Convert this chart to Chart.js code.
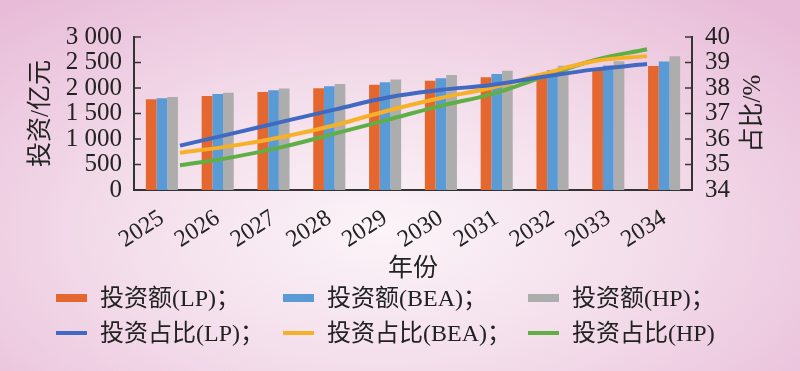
<!DOCTYPE html>
<html lang="zh">
<head>
<meta charset="utf-8">
<title>投资额与投资占比</title>
<script src="https://cdn.jsdelivr.net/npm/chart.js@4.4.1/dist/chart.umd.min.js"></script>
<style>
    html, body { margin: 0; padding: 0; }
    body {
        width: 800px; height: 371px; overflow: hidden;
        background: radial-gradient(ellipse 70% 80% at 48% 62%, #fbf4f8 0%, #f3dcea 50%, #e8bcd8 100%);
    }
    #wrap { position: relative; width: 800px; height: 371px; }
    #wrap canvas { position: absolute; left: 0; top: 0; }
    #legend {
        position: absolute; left: 0; top: 0; width: 800px; height: 371px; pointer-events: none;
        font-family: "Liberation Serif", "Noto Sans CJK SC", serif; font-size: 24px; color: #222;
    }
    .item { position: absolute; display: flex; align-items: center; white-space: nowrap; height: 30px; line-height: 30px; }
    .swatch { width: 31px; margin-right: 13px; }
</style>
</head>
<body>
<div id="wrap">
    <canvas id="barras" width="800" height="371"></canvas>
    <canvas id="lineas" width="800" height="371"></canvas>
    <div id="legend"></div>
</div>
<script>
const years = ['2025', '2026', '2027', '2028', '2029', '2030', '2031', '2032', '2033', '2034'];
const yearNums = [2025, 2026, 2027, 2028, 2029, 2030, 2031, 2032, 2033, 2034];

// 投资额 / 亿元
const investLP = [1780, 1845, 1920, 1995, 2065, 2140, 2210, 2285, 2360, 2430];
const investBEA = [1800, 1880, 1955, 2035, 2115, 2190, 2275, 2355, 2440, 2520];
const investHP = [1825, 1905, 1990, 2080, 2165, 2255, 2340, 2435, 2525, 2625];

// 投资占比 / %
const shareLP = [35.74, 36.21, 36.69, 37.16, 37.63, 37.92, 38.12, 38.44, 38.73, 38.94];
const shareBEA = [35.46, 35.73, 36.09, 36.55, 37.11, 37.60, 38.01, 38.55, 39.06, 39.25];
const shareHP = [34.97, 35.28, 35.70, 36.22, 36.75, 37.29, 37.76, 38.44, 39.10, 39.52];

const leftTickLabels = ['0', '500', '1 000', '1 500', '2 000', '2 500', '3 000'];
const rightTickLabels = ['34', '35', '36', '37', '38', '39', '40'];
const seriesNames = ['投资额(LP)；', '投资额(BEA)；', '投资额(HP)；', '投资占比(LP)；', '投资占比(BEA)；', '投资占比(HP)'];
const leftAxisTitle = '投资/亿元';
const rightAxisTitle = '占比/%';
const xAxisTitle = '年份';

const FUENTE = '"Liberation Serif", "Noto Sans CJK SC", serif';
const colores = ['#e3672f', '#5b9bd5', '#adadad', '#4169c1', '#f6b128', '#5faf45'];

// area del grafico compartida por los dos lienzos
const AREA = { left: 134, top: 37, right: 108, bottom: 181 };

function puntos(valores) {
    return valores.map((v, i) => ({ x: yearNums[i], y: v }));
}

const ejesPlugin = {
    id: 'ejes',
    afterDraw(chart) {
        const ctx = chart.ctx;
        const a = chart.chartArea;
        const sy = chart.scales.y;
        const sy1 = chart.scales.y1;
        ctx.save();
        ctx.strokeStyle = '#333';
        ctx.lineWidth = 1.5;
        sy.ticks.forEach((t, i) => {
            const py = sy.getPixelForTick(i);
            ctx.beginPath(); ctx.moveTo(a.left, py); ctx.lineTo(a.left + 7, py); ctx.stroke();
        });
        sy1.ticks.forEach((t, i) => {
            const py = sy1.getPixelForTick(i);
            ctx.beginPath(); ctx.moveTo(a.right - 7, py); ctx.lineTo(a.right, py); ctx.stroke();
        });
        // titulo del eje derecho, girado como el izquierdo
        ctx.font = '25px ' + FUENTE;
        ctx.fillStyle = '#222';
        ctx.textAlign = 'center';
        ctx.textBaseline = 'middle';
        ctx.translate(sy1.right - 47, (a.top + a.bottom) / 2);
        ctx.rotate(-Math.PI / 2);
        ctx.fillText(rightAxisTitle, 0, 0);
        ctx.restore();
    }
};

function renderizarBarras() {
    const ctx = document.getElementById('barras').getContext('2d');
    return new Chart(ctx, {
        type: 'bar',
        data: {
            labels: years,
            datasets: [
                { label: seriesNames[0], data: investLP, backgroundColor: colores[0] },
                { label: seriesNames[1], data: investBEA, backgroundColor: colores[1] },
                { label: seriesNames[2], data: investHP, backgroundColor: colores[2] }
            ]
        },
        options: {
            responsive: false,
            animation: false,
            categoryPercentage: 0.575,
            barPercentage: 1,
            layout: { padding: { top: AREA.top, left: 0, right: 0, bottom: 0 } },
            plugins: {
                legend: { display: false },
                tooltip: { enabled: false }
            },
            scales: {
                x: {
                    type: 'category',
                    grid: { display: false, drawTicks: false },
                    border: { display: true, color: '#333', width: 2 },
                    ticks: {
                        autoSkip: false, maxRotation: 33, minRotation: 33, padding: 14,
                        color: '#222', font: { family: FUENTE, size: 24 }
                    },
                    title: {
                        display: true, text: xAxisTitle, color: '#222',
                        font: { family: FUENTE, size: 25 }, padding: { top: 0, bottom: 87 }
                    },
                    afterFit(scale) { scale.height = AREA.bottom; }
                },
                y: {
                    position: 'left',
                    min: 0, max: 3000,
                    grid: { display: false, drawTicks: false },
                    border: { display: true, color: '#333', width: 2 },
                    ticks: {
                        autoSkip: false, stepSize: 500, padding: 12, color: '#222',
                        font: { family: FUENTE, size: 25 },
                        callback: (v, i) => leftTickLabels[i]
                    },
                    title: {
                        display: true, text: leftAxisTitle, color: '#222',
                        font: { family: FUENTE, size: 25 }, padding: { top: 26, bottom: 0 }
                    },
                    afterFit(scale) { scale.width = AREA.left; }
                },
                y1: {
                    position: 'right',
                    min: 34, max: 40,
                    grid: { display: false, drawTicks: false },
                    border: { display: true, color: '#333', width: 2 },
                    ticks: {
                        autoSkip: false, stepSize: 1, padding: 13, color: '#222',
                        font: { family: FUENTE, size: 25 },
                        callback: (v, i) => rightTickLabels[i]
                    },
                    afterFit(scale) { scale.width = AREA.right; }
                }
            }
        },
        plugins: [ejesPlugin]
    });
}

function renderizarLineas() {
    const ctx = document.getElementById('lineas').getContext('2d');
    const serie = (nombre, valores, color) => ({
        label: nombre, data: puntos(valores), borderColor: color, backgroundColor: color,
        borderWidth: 4, pointRadius: 0, tension: 0.4
    });
    return new Chart(ctx, {
        type: 'line',
        data: {
            datasets: [
                serie(seriesNames[3], shareLP, colores[3]),
                serie(seriesNames[4], shareBEA, colores[4]),
                serie(seriesNames[5], shareHP, colores[5])
            ]
        },
        options: {
            responsive: false,
            animation: false,
            layout: { padding: AREA },
            plugins: {
                legend: { display: false },
                tooltip: { enabled: false }
            },
            scales: {
                // eje secundario horizontal (oculto), como en el original
                x: { type: 'linear', display: false, offset: false, min: 2024.114, max: 2034.867 },
                y: { type: 'linear', display: false, min: 34, max: 40 }
            }
        }
    });
}

function construirLeyenda(graficos) {
    const leyenda = document.getElementById('legend');
    const columnas = [56, 283, 528];
    const filas = [298, 333];
    graficos.forEach((g, fila) => {
        g.data.datasets.forEach((ds, col) => {
            const item = document.createElement('div');
            item.className = 'item';
            item.style.left = columnas[col] + 'px';
            item.style.top = (filas[fila] - 15) + 'px';
            const muestra = document.createElement('span');
            muestra.className = 'swatch';
            muestra.style.height = g.config.type === 'line' ? '4px' : '8px';
            muestra.style.background = g.config.type === 'line' ? ds.borderColor : ds.backgroundColor;
            const texto = document.createElement('span');
            texto.textContent = ds.label;
            item.appendChild(muestra);
            item.appendChild(texto);
            leyenda.appendChild(item);
        });
    });
}

const graficoBarras = renderizarBarras();
const graficoLineas = renderizarLineas();
construirLeyenda([graficoBarras, graficoLineas]);
</script>
</body>
</html>
